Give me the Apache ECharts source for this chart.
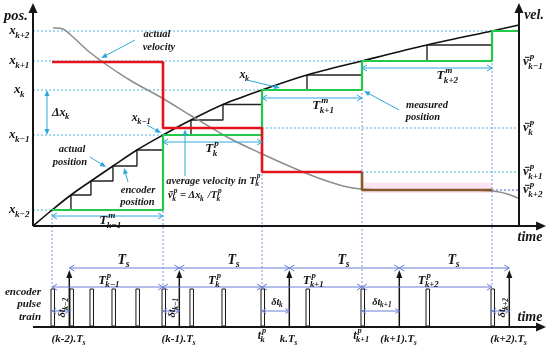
<!DOCTYPE html>
<html><head><meta charset="utf-8">
<script src="https://cdn.jsdelivr.net/npm/echarts@6/dist/echarts.min.js"></script>
<style>html,body{margin:0;padding:0;background:#fff}#c{width:550px;height:349px}</style>
</head><body><div id="c"></div>
<script>
// ---------------- data (time in Ts units, position / velocity in arbitrary units) ----------------
const sampleTimes = [0, 1, 2, 3, 4];
const sampleLabels = ['(k-2)', '(k-1)', 'k', '(k+1)', '(k+2)'];
const sampleIdx = ['k\u22122', 'k\u22121', 'k', 'k+1', 'k+2'];
const pulseTimes = [-0.157, 0.015, 0.197, 0.397, 0.615, 0.852, 1.106, 1.397, 1.752, 2.161, 2.661, 3.252, 3.843];
const encoderPos = [1.6, 3.1, 4.5, 6.0, 7.6, 9.1, 10.6, 12.15, 13.6, 15.1, 16.5, 18.1, 19.5];
const posCurveStart = [-0.33, 0];
const posCurveEnd = [4.088, 20.1];
const velT = [-0.148, -0.057, 0.034, 0.161, 0.279, 0.434, 0.579, 0.843, 1.097, 1.434, 1.734, 2.125, 2.37, 2.652, 3.188, 3.843, 4.079];
const velV = [19.8, 19.7, 18.9, 17.6, 16.6, 15.4, 14.4, 12.8, 11.1, 8.9, 7.3, 5.4, 4.4, 3.7, 3.6, 3.5, 2.8];
const avgVel = [16.4, 9.8, 5.4, 3.6];
const avgVelIdx = ['k\u22121', 'k', 'k+1', 'k+2'];
const periodIdx = ['k\u22121', 'k', 'k+1', 'k+2'];
const periodSup = ['m', 'p', 'm', 'm'];

// ---------------- layout ----------------
const X0 = -0.63, X1 = 4.37, Y0 = -12.3, Y1 = 22.6;
const posAxisT = -0.33, velAxisT = 4.088, arrowEndT = 4.334, axisTopV = 22.3;
const baseV = -10.1, pulseTopV = -6.3, sampleTipV = -4.4, tsArrowV = -4.2, tpArrowV = -6.1, dtArrowV = -8.5;
const topArrowV = [1.0, 8.4, 12.8, 15.8];
const C = {cyan:'#2ea8dc', dot:'#45b5e6', blue:'#6a7ed6', dotBlue:'#7a95e0', green:'#22c94b', red:'#e5141c',
  brown:'#875a2a', gray:'#8d8d8d', pink:'#fde4f2', ink:'#151515'};
const FF = '"Liberation Serif", "DejaVu Serif", serif';

// derived: measured pulse = last pulse before each sample
const mpIdx = sampleTimes.map(s => { let k = 0; pulseTimes.forEach((p, i) => { if (p < s) k = i; }); return k; });
const mpT = mpIdx.map(i => pulseTimes[i]);
const mpX = mpIdx.map(i => encoderPos[i]);

// series data
const posCurve = [posCurveStart].concat(pulseTimes.map((t, i) => [t, encoderPos[i]])).concat([posCurveEnd]);
const velCurve = velT.map((t, i) => [t, velV[i]]);
const encoderStairs = [[pulseTimes[0], encoderPos[0]]];
for (let i = 1; i < pulseTimes.length; i++) { encoderStairs.push([pulseTimes[i], encoderPos[i - 1]], [pulseTimes[i], encoderPos[i]]); }
const measured = [[mpT[0], mpX[0]]];
for (let j = 1; j < mpT.length; j++) { measured.push([mpT[j], mpX[j - 1]], [mpT[j], mpX[j]]); }
measured.push([velAxisT, mpX[mpX.length - 1]]);
const redLine = [[mpT[0], avgVel[0]]];
for (let j = 1; j < 3; j++) { redLine.push([mpT[j], avgVel[j - 1]], [mpT[j], avgVel[j]]); }
redLine.push([mpT[3], avgVel[2]]);
const brownLine = [[mpT[3], avgVel[2]], [mpT[3], avgVel[3]], [mpT[4], avgVel[3]]];

// ---------------- helpers ----------------
const mctx = document.createElement('canvas').getContext('2d');
function tw(s, size) { mctx.font = 'italic bold ' + size + 'px ' + FF; return mctx.measureText(s).width; }
function seg(a, b, col, w, dash) {
  return {type:'line', shape:{x1:a[0], y1:a[1], x2:b[0], y2:b[1]}, style:{stroke:col, lineWidth:w, lineDash:dash || null}};
}
function arrowLine(a, b, col, w, o) {
  o = o || {};
  const len = o.len || 7, half = o.half || 3;
  const dx = b[0] - a[0], dy = b[1] - a[1], L = Math.hypot(dx, dy), ux = dx / L, uy = dy / L;
  let a2 = a.slice(), b2 = b.slice();
  if (o.end === 'fill') b2 = [b[0] - ux * len * 0.7, b[1] - uy * len * 0.7];
  if (o.start === 'fill') a2 = [a[0] + ux * len * 0.7, a[1] + uy * len * 0.7];
  const out = [seg(a2, b2, col, w, o.dash)];
  const mk = (tip, vx, vy, type) => {
    const bx = tip[0] - vx * len, by = tip[1] - vy * len;
    const p1 = [bx - vy * half, by + vx * half], p2 = [bx + vy * half, by - vx * half];
    if (type === 'fill') return {type:'polygon', shape:{points:[tip, p1, p2]}, style:{fill:col}};
    return {type:'polyline', shape:{points:[p1, tip, p2]}, style:{stroke:col, lineWidth:w, fill:null}};
  };
  if (o.end) out.push(mk(b, ux, uy, o.end));
  if (o.start) out.push(mk(a, -ux, -uy, o.start));
  return out;
}
function mlabel(pos, segs, size, opts) {
  opts = opts || {};
  const ss = Math.round(size * 0.7 * 10) / 10;
  const col = opts.color || C.ink;
  const parts = segs.map(s => {
    const wb = tw(s.b, size);
    const ws = Math.max(s.sup ? tw(s.sup, ss) : 0, s.sub ? tw(s.sub, ss) : 0);
    return {s, wb, ws};
  });
  const total = parts.reduce((a, p) => a + p.wb + (p.ws ? p.ws + 1 : 0), 0);
  let cx = opts.align === 'left' ? 0 : (opts.align === 'right' ? -total : -total / 2);
  const T = (text, x, y, fs) => ({type:'text', x, y, style:{text, fill:col, fontSize:fs, fontFamily:FF,
    fontStyle:'italic', fontWeight:'bold', align:'left', verticalAlign:'middle'}});
  const ch = [];
  parts.forEach(p => {
    ch.push(T(p.s.b, cx, 0, size));
    if (p.s.bar) { const bx = cx + size * 0.15; ch.push(seg([bx, -size * 0.36], [bx + p.wb * 0.8, -size * 0.36], col, 1)); }
    cx += p.wb;
    if (p.s.sup) ch.push(T(p.s.sup, cx + 1, -size * 0.42, ss));
    if (p.s.sub) ch.push(T(p.s.sub, cx - 0.5, size * 0.33, ss));
    if (p.ws) cx += p.ws + 1;
  });
  return {type:'group', x:pos[0], y:pos[1], rotation:opts.rotation || 0, children:ch};
}
// smooth curve (Catmull-Rom) through data points, mapped by the axes
function splineItem(points, color, width) {
  return function (params, api) {
    const P = points.map(p => api.coord(p));
    let d = 'M' + P[0][0] + ' ' + P[0][1];
    for (let i = 0; i < P.length - 1; i++) {
      const p0 = P[Math.max(i - 1, 0)], p1 = P[i], p2 = P[i + 1], p3 = P[Math.min(i + 2, P.length - 1)];
      const c1 = [p1[0] + (p2[0] - p0[0]) / 6, p1[1] + (p2[1] - p0[1]) / 6];
      const c2 = [p2[0] - (p3[0] - p1[0]) / 6, p2[1] - (p3[1] - p1[1]) / 6];
      d += ' C' + c1[0] + ' ' + c1[1] + ' ' + c2[0] + ' ' + c2[1] + ' ' + p2[0] + ' ' + p2[1];
    }
    return {type:'path', shape:{pathData:d}, style:{stroke:color, lineWidth:width, fill:null}};
  };
}

// ---------------- render items ----------------
function underlay(params, api) {
  const c = (t, v) => api.coord([t, v]);
  const ch = [];
  const a = c(mpT[3], avgVel[3] + 0.75), b = c(mpT[4], avgVel[3] - 0.3);
  ch.push({type:'rect', shape:{x:a[0], y:a[1], width:b[0] - a[0], height:b[1] - a[1]}, style:{fill:C.pink}});
  mpT.forEach((t, j) => {
    ch.push(seg(c(posAxisT, mpX[j]), c(t, mpX[j]), C.dot, 1, [2, 2]));
    ch.push(seg(c(t, mpX[j]), c(t, tpArrowV), C.dotBlue, 1, [2, 2]));
  });
  for (let i = 1; i < avgVel.length; i++) {
    ch.push(seg(c(mpT[i + 1], avgVel[i]), c(velAxisT, avgVel[i]), i === 3 ? '#4b5fd2' : C.dot, 1, [2, 2]));
  }
  return {type:'group', children:ch};
}

function overlay(params, api) {
  const c = (t, v) => api.coord([t, v]);
  const off = (p, dx, dy) => [p[0] + dx, p[1] + dy];
  let ch = [];
  const K = C.ink;
  const add = arr => { ch = ch.concat(arr); };
  // axes
  add(arrowLine(c(posAxisT, 0), c(posAxisT, axisTopV), K, 2, {end:'fill', len:10, half:4.5}));
  add(arrowLine(c(velAxisT, 0), c(velAxisT, axisTopV), K, 2, {end:'fill', len:10, half:4.5}));
  add(arrowLine(c(posAxisT, 0), c(arrowEndT, 0), K, 2.2, {end:'fill', len:10, half:4.5}));
  add(arrowLine(c(posAxisT, baseV), c(arrowEndT, baseV), K, 2.2, {end:'fill', len:10, half:4.5}));
  // pulses
  pulseTimes.forEach(t => {
    const top = c(t, pulseTopV), bot = c(t, baseV);
    ch.push({type:'rect', shape:{x:top[0] - 1, y:top[1], width:3.5, height:bot[1] - top[1] - 1}, style:{fill:'#fff', stroke:K, lineWidth:1}});
  });
  // sample arrows
  sampleTimes.forEach(s => add(arrowLine(c(s, baseV), c(s, sampleTipV), K, 1.5, {end:'fill', len:8, half:3})));
  // Ts arrows
  for (let i = 0; i < sampleTimes.length - 1; i++) {
    add(arrowLine(c(sampleTimes[i], tsArrowV), c(sampleTimes[i + 1], tsArrowV), C.blue, 1, {start:'chev', end:'chev', len:5, half:3}));
    ch.push(mlabel(off(c((sampleTimes[i] + sampleTimes[i + 1]) / 2, tsArrowV), 0, -8), [{b:'T', sub:'s'}], 14));
  }
  // Tp arrows (bottom) and top T arrows
  for (let j = 0; j < mpT.length - 1; j++) {
    const mid = (mpT[j] + mpT[j + 1]) / 2;
    add(arrowLine(c(mpT[j], tpArrowV), c(mpT[j + 1], tpArrowV), C.blue, 1, {start:'chev', end:'chev', len:5, half:3}));
    ch.push(mlabel(off(c(mid, tpArrowV), 2, -6), [{b:'T', sup:'p', sub:periodIdx[j]}], 12.5));
    add(arrowLine(c(mpT[j], topArrowV[j]), c(mpT[j + 1], topArrowV[j]), C.cyan, 1, {start:'chev', end:'chev', len:5, half:3}));
  }
  ch.push(mlabel(c(0.379, 0.5), [{b:'T', sup:periodSup[0], sub:periodIdx[0]}], 13));
  ch.push(mlabel(c(1.297, 7.7), [{b:'T', sup:periodSup[1], sub:periodIdx[1]}], 13));
  ch.push(mlabel(c(2.315, 12.0), [{b:'T', sup:periodSup[2], sub:periodIdx[2]}], 13));
  ch.push(mlabel(c(3.443, 15.0), [{b:'T', sup:periodSup[3], sub:periodIdx[3]}], 13));
  // delta t arrows
  for (let j = 0; j < sampleTimes.length; j++) {
    add(arrowLine(c(mpT[j], dtArrowV), c(sampleTimes[j], dtArrowV), C.blue, 1, {start:'chev', end:'chev', len:4, half:2.5}));
    const gap = sampleTimes[j] - mpT[j];
    const m = c((mpT[j] + sampleTimes[j]) / 2, dtArrowV);
    if (gap < 0.2) ch.push(mlabel(off(m, 1.5, -4), [{b:'\u03b4t', sub:sampleIdx[j]}], 10.5, {rotation:Math.PI / 2}));
    else ch.push(mlabel(off(m, 2, -9), [{b:'\u03b4t', sub:sampleIdx[j]}], 10.5));
  }
  // bottom labels
  sampleTimes.forEach((s, i) => ch.push(mlabel(c(s, -11.3), [{b:sampleLabels[i] + '.T', sub:'s'}], 11)));
  ch.push(mlabel(c(mpT[2], -11.0), [{b:'t', sup:'p', sub:sampleIdx[2]}], 12));
  ch.push(mlabel(c(mpT[3], -11.0), [{b:'t', sup:'p', sub:sampleIdx[3]}], 12));
  ch.push(mlabel(c(-0.257, -6.6), [{b:'encoder'}], 11, {align:'right'}));
  ch.push(mlabel(c(-0.257, -7.8), [{b:'pulse'}], 11, {align:'right'}));
  ch.push(mlabel(c(-0.257, -9.1), [{b:'train'}], 11, {align:'right'}));
  ch.push(mlabel(c(4.188, -9.1), [{b:'time'}], 14));
  ch.push(mlabel(c(4.188, -1.15), [{b:'time'}], 14));
  ch.push(mlabel(c(-0.485, 21.0), [{b:'pos.'}], 14.5));
  ch.push(mlabel(c(4.225, 21.1), [{b:'vel.'}], 14));
  // axis level labels
  mpX.forEach((x, j) => ch.push(mlabel(c(-0.448, x), [{b:'x', sub:sampleIdx[j]}], 13)));
  avgVel.forEach((v, i) => ch.push(mlabel(c(4.124, v), [{b:'v', bar:true, sup:'p', sub:avgVelIdx[i]}], 13, {align:'left'})));
  // annotations
  ch.push(mlabel(c(0.797, 19.2), [{b:'actual'}], 10.5));
  ch.push(mlabel(c(0.815, 17.9), [{b:'velocity'}], 10.5));
  add(arrowLine(c(0.597, 18.6), c(0.29, 16.8), C.cyan, 1, {end:'fill', len:6, half:2.5}));
  add(arrowLine(c(-0.203, mpX[1]), c(-0.203, mpX[2]), C.cyan, 1, {start:'fill', end:'fill', len:6, half:2.5}));
  ch.push(mlabel(c(-0.157, 11.3), [{b:'\u0394x', sub:'k'}], 12, {align:'left'}));
  ch.push(mlabel(c(0.661, 10.8), [{b:'x', sub:'k\u22121'}], 12));
  add(arrowLine(c(0.706, 10.1), c(0.834, 9.3), C.cyan, 1, {end:'fill', len:6, half:2.5}));
  ch.push(mlabel(c(1.597, 15.1), [{b:'x', sub:'k'}], 12));
  add(arrowLine(c(1.615, 14.6), c(1.915, 13.8), C.cyan, 1, {end:'fill', len:6, half:2.5}));
  ch.push(mlabel(c(0.025, 7.7), [{b:'actual'}], 10.5));
  ch.push(mlabel(c(0.006, 6.4), [{b:'position'}], 10.5));
  add(arrowLine(c(0.188, 6.9), c(0.334, 5.9), C.cyan, 1, {end:'fill', len:6, half:2.5}));
  ch.push(mlabel(c(0.625, 3.6), [{b:'encoder'}], 10.5));
  ch.push(mlabel(c(0.62, 2.4), [{b:'position'}], 10.5));
  add(arrowLine(c(0.534, 4.4), c(0.497, 5.8), C.cyan, 1, {end:'fill', len:6, half:2.5}));
  ch.push(mlabel(c(0.881, 4.5), [{b:'average velocity in T', sup:'p', sub:'k'}], 10.5, {align:'left'}));
  ch.push(mlabel(c(0.897, 3.05), [{b:'v', bar:true, sup:'p', sub:'k'}, {b:' = \u0394x', sub:'k'}, {b:' /T', sup:'p', sub:'k'}], 10.5, {align:'left'}));
  add(arrowLine(c(1.052, 5.0), c(1.052, avgVel[1] - 0.15), C.cyan, 1, {end:'fill', len:6, half:2.5}));
  ch.push(mlabel(c(3.252, 12.1), [{b:'measured'}], 10.5));
  ch.push(mlabel(c(3.215, 10.9), [{b:'position'}], 10.5));
  add(arrowLine(c(2.998, 11.6), c(2.679, 13.5), C.cyan, 1, {end:'fill', len:6, half:2.5}));
  return {type:'group', children:ch};
}

const chart = echarts.init(document.getElementById('c'), null, {renderer:'canvas'});
const lineS = (data, color, width, z) => ({type:'line', data, showSymbol:false, symbol:'none',
  lineStyle:{color, width}, z, silent:true, animation:false});
const curveS = (data, color, width, z) => ({type:'custom', coordinateSystem:'cartesian2d', data:[data[0]],
  renderItem:splineItem(data, color, width), z, silent:true, clip:false});
chart.setOption({
  animation:false,
  grid:{left:0, right:0, top:0, bottom:0},
  xAxis:{type:'value', min:X0, max:X1, show:false},
  yAxis:{type:'value', min:Y0, max:Y1, show:false},
  series:[
    {type:'custom', coordinateSystem:'cartesian2d', data:[[0, 0]], renderItem:underlay, z:1, silent:true, clip:false},
    lineS(encoderStairs, '#222', 1.4, 2),
    curveS(posCurve, '#111', 1.6, 3),
    curveS(velCurve, C.gray, 1.5, 3),
    lineS(measured, C.green, 2.2, 4),
    lineS(redLine, C.red, 2.6, 5),
    lineS(brownLine, C.brown, 2.6, 5),
    {type:'custom', coordinateSystem:'cartesian2d', data:[[0, 0]], renderItem:overlay, z:6, silent:true, clip:false}
  ]
});
</script></body></html>
